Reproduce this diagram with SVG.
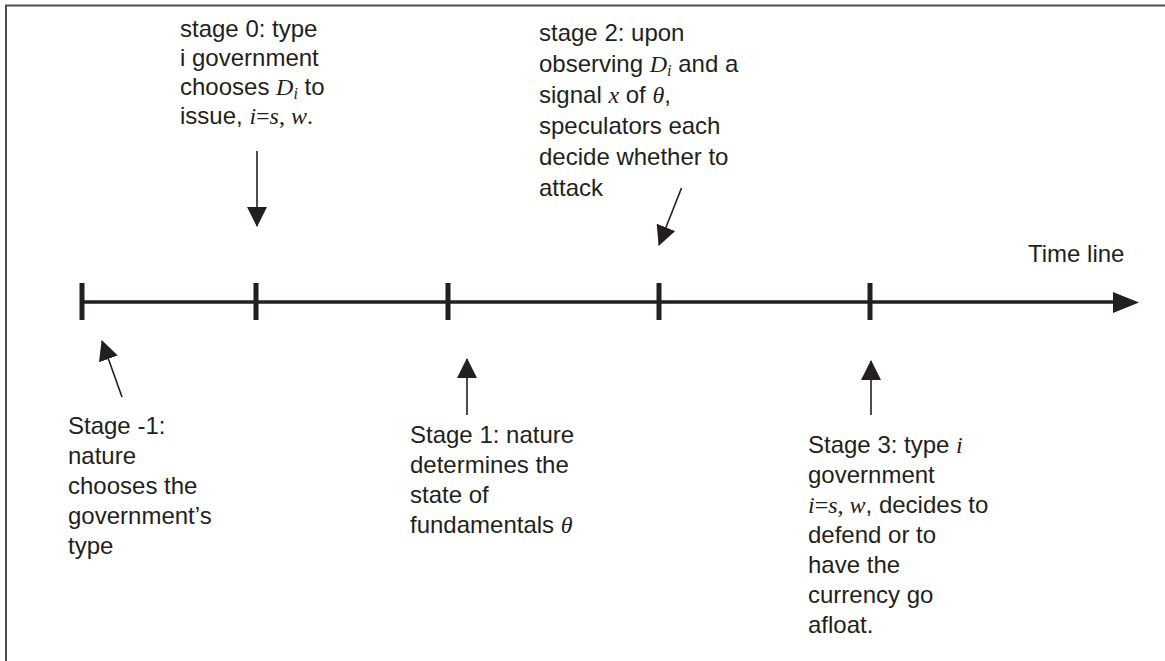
<svg xmlns="http://www.w3.org/2000/svg" width="1165" height="661" viewBox="0 0 1165 661">
<defs>
<style>
text{font-family:"Liberation Sans",Arial,sans-serif;font-size:24px;fill:#231f20}
.m{font-family:"Liberation Serif","Times New Roman",serif;font-style:italic}
.r{font-family:"Liberation Serif","Times New Roman",serif;font-style:normal}
.sub{font-family:"Liberation Serif","Times New Roman",serif;font-style:italic;font-size:16px}
.ptr{stroke:#231f20;stroke-width:1.6;fill:none;marker-end:url(#ah)}
.tick{stroke:#231f20;stroke-width:5}
</style>
<marker id="ah" markerUnits="userSpaceOnUse" markerWidth="21" markerHeight="21" refX="19" refY="10" orient="auto" viewBox="0 0 21 21">
<path d="M0,0 L20,10 L0,20 Z" fill="#231f20"/>
</marker>
</defs>
<rect width="1165" height="661" fill="#fff"/>
<path d="M6,661 V5.5 H1165" fill="none" stroke="#4d4d4d" stroke-width="2"/>

<g id="timeline">
<line x1="82" y1="302" x2="1116" y2="302" stroke="#231f20" stroke-width="3.5"/>
<polygon points="1113,292 1139,302.5 1113,313" fill="#231f20"/>
<line class="tick" x1="82" y1="283" x2="82" y2="320"/>
<line class="tick" x1="256" y1="283" x2="256" y2="320"/>
<line class="tick" x1="448" y1="283" x2="448" y2="320"/>
<line class="tick" x1="659" y1="283" x2="659" y2="320"/>
<line class="tick" x1="870" y1="283" x2="870" y2="320"/>
<text x="1028" y="262">Time line</text>
</g>

<g id="connectors">
<line class="ptr" x1="257" y1="151" x2="257" y2="226"/>
<line class="ptr" x1="681.5" y1="188" x2="659" y2="245"/>
<line class="ptr" x1="122" y1="397" x2="102" y2="341"/>
<line class="ptr" x1="467" y1="415" x2="467" y2="359"/>
<line class="ptr" x1="871" y1="415" x2="871" y2="361"/>
</g>

<g id="stage0">
<text x="180" y="37">stage 0: type</text>
<text x="180" y="66">i government</text>
<text x="180" y="95">chooses <tspan class="m">D</tspan><tspan class="sub" dy="4">i</tspan><tspan dy="-4"> to</tspan></text>
<text x="180" y="124">issue, <tspan class="m">i</tspan><tspan class="r">=</tspan><tspan class="m">s</tspan><tspan class="r">, </tspan><tspan class="m">w</tspan><tspan class="r">.</tspan></text>
</g>

<g id="stage2">
<text x="539" y="41">stage 2: upon</text>
<text x="539" y="72">observing <tspan class="m">D</tspan><tspan class="sub" dy="4">i</tspan><tspan dy="-4"> and a</tspan></text>
<text x="539" y="103">signal <tspan class="m">x</tspan> of <tspan class="m">θ</tspan>,</text>
<text x="539" y="134">speculators each</text>
<text x="539" y="165">decide whether to</text>
<text x="539" y="196">attack</text>
</g>

<g id="stage-1">
<text x="68" y="434">Stage -1:</text>
<text x="68" y="464">nature</text>
<text x="68" y="494">chooses the</text>
<text x="68" y="524">government’s</text>
<text x="68" y="554">type</text>
</g>

<g id="stage1">
<text x="410" y="443">Stage 1: nature</text>
<text x="410" y="473">determines the</text>
<text x="410" y="503">state of</text>
<text x="410" y="533">fundamentals <tspan class="m">θ</tspan></text>
</g>

<g id="stage3">
<text x="808" y="453">Stage 3: type <tspan class="m">i</tspan></text>
<text x="808" y="483">government</text>
<text x="808" y="513"><tspan class="m">i</tspan><tspan class="r">=</tspan><tspan class="m">s</tspan><tspan class="r">, </tspan><tspan class="m">w</tspan>, decides to</text>
<text x="808" y="543">defend or to</text>
<text x="808" y="573">have the</text>
<text x="808" y="603">currency go</text>
<text x="808" y="633">afloat.</text>
</g>
</svg>
